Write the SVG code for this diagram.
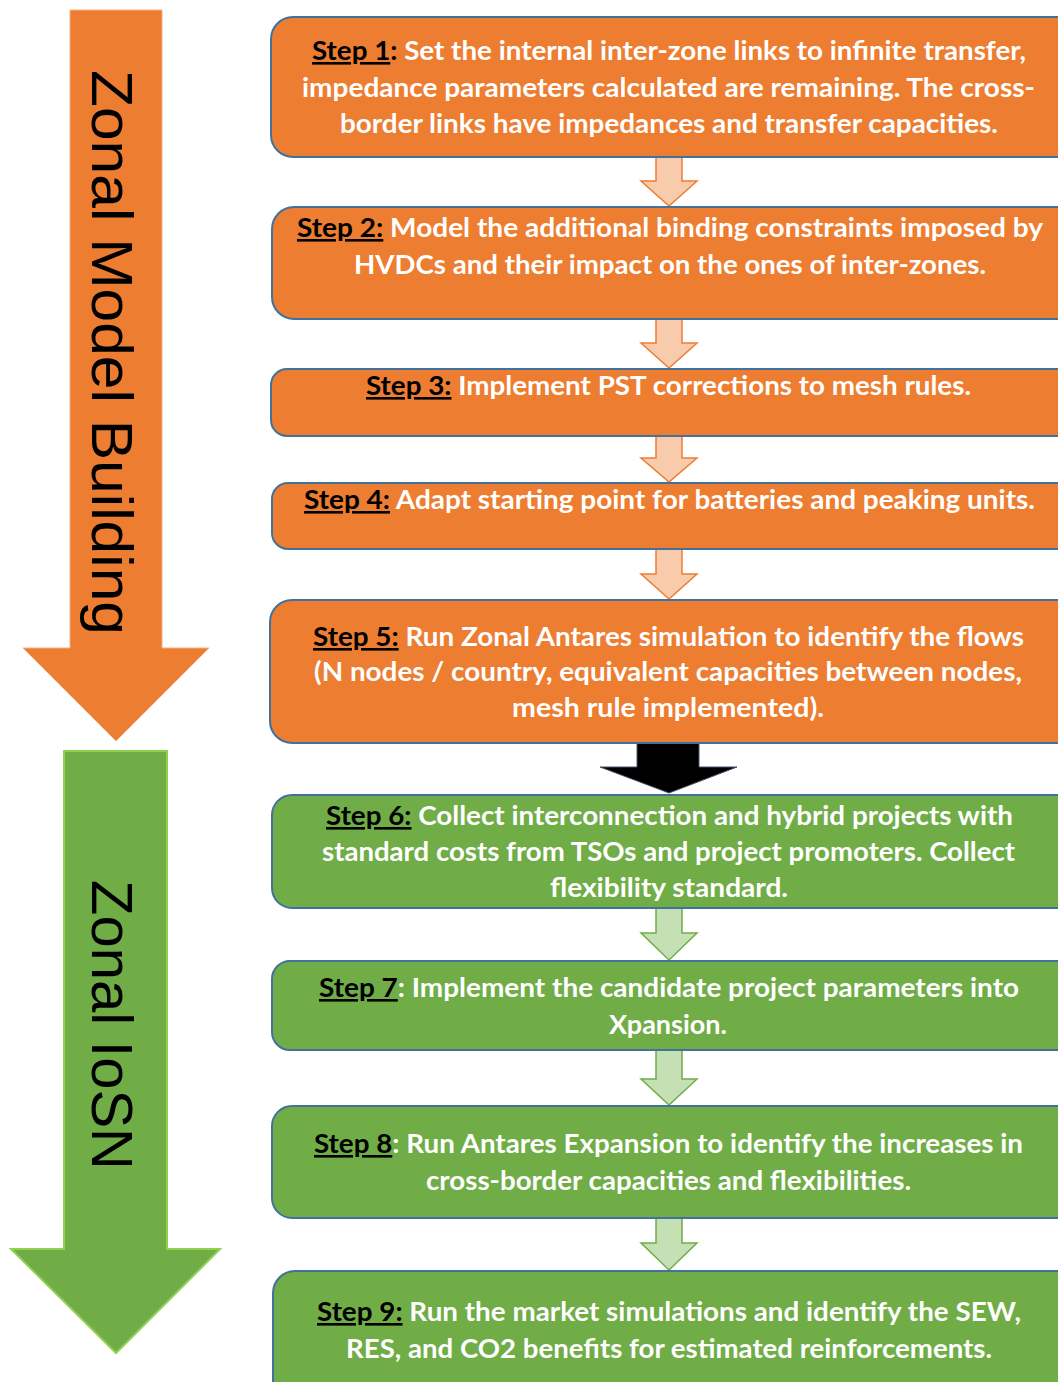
<svg xmlns="http://www.w3.org/2000/svg" width="1058" height="1382" viewBox="0 0 1058 1382">
  <style>
    .box { stroke: #41719C; stroke-width: 2; }
    .orange { fill: #ED7D31; }
    .green { fill: #70AD47; }
    .t { font-family: Lato, "Open Sans", "Liberation Sans", sans-serif; font-weight: bold; font-size: 26px; fill: #FFFFFF; }
    .lbl { fill: #000000; text-decoration: underline; }
    .blk { fill: #000000; }
    .arr-o { fill: #F8CBAD; stroke: #ED7D31; stroke-width: 1.5; }
    .arr-g { fill: #C5E0B4; stroke: #70AD47; stroke-width: 1.5; }
    .side { font-family: "Liberation Sans", Arial, sans-serif; font-size: 58px; fill: #000000; }
  </style>

  <rect width="1058" height="1382" fill="#FFFFFF"/>

  <!-- phase arrows on the left -->
  <g id="phase-model-building">
    <polygon points="70,10 162,10 162,648 209,648 116,741 23,648 70,648" fill="#ED7D31" stroke="#F4B183" stroke-width="1"/>
    <text class="side" transform="translate(92,70) rotate(90)" textLength="565" lengthAdjust="spacingAndGlyphs">Zonal Model Building</text>
  </g>
  <g id="phase-iosn">
    <polygon points="64,751 167,751 167,1249 220,1249 116,1353 11,1249 64,1249" fill="#70AD47" stroke="#92D050" stroke-width="2"/>
    <text class="side" transform="translate(92,880) rotate(90)" textLength="290" lengthAdjust="spacingAndGlyphs">Zonal IoSN</text>
  </g>

  <!-- connectors between steps -->
  <g id="connectors">
    <polygon class="arr-o" points="656,157 682,157 682,181 697,181 669,206 641,181 656,181"/>
    <polygon class="arr-o" points="656,319 682,319 682,343 697,343 669,368 641,343 656,343"/>
    <polygon class="arr-o" points="656,436 682,436 682,458 697,458 669,482 641,458 656,458"/>
    <polygon class="arr-o" points="656,549 682,549 682,574 697,574 669,599 641,574 656,574"/>
    <polygon points="637,743 699,743 699,767 737,767 669,793 600,767 637,767" fill="#000000" stroke="#44546A" stroke-width="1"/>
    <polygon class="arr-g" points="656,908 682,908 682,933 697,933 669,960 641,933 656,933"/>
    <polygon class="arr-g" points="656,1050 682,1050 682,1079 697,1079 669,1105 641,1079 656,1079"/>
    <polygon class="arr-g" points="656,1218 682,1218 682,1243 697,1243 669,1270 641,1243 656,1243"/>
  </g>

  <g id="step1">
    <rect class="box orange" x="271" y="17" width="820" height="140" rx="22"/>
    <text class="t" x="312" y="60" textLength="714" lengthAdjust="spacingAndGlyphs"><tspan class="lbl">Step 1</tspan><tspan class="blk">:</tspan> Set the internal inter-zone links to infinite transfer,</text>
    <text class="t" x="302" y="97" textLength="733" lengthAdjust="spacingAndGlyphs">impedance  parameters calculated are remaining. The cross-</text>
    <text class="t" x="340" y="133" textLength="658" lengthAdjust="spacingAndGlyphs">border links have impedances and transfer capacities.</text>
  </g>

  <g id="step2">
    <rect class="box orange" x="272" y="207" width="820" height="112" rx="22"/>
    <text class="t" x="297" y="237" textLength="746" lengthAdjust="spacingAndGlyphs"><tspan class="lbl">Step 2:</tspan> Model the additional  binding constraints imposed by</text>
    <text class="t" x="354" y="274" textLength="632" lengthAdjust="spacingAndGlyphs">HVDCs and their impact on the ones of inter-zones.</text>
  </g>

  <g id="step3">
    <rect class="box orange" x="271" y="369" width="820" height="67" rx="16"/>
    <text class="t" x="366" y="395" textLength="605" lengthAdjust="spacingAndGlyphs"><tspan class="lbl">Step 3:</tspan> Implement PST corrections to mesh rules.</text>
  </g>

  <g id="step4">
    <rect class="box orange" x="272" y="483" width="820" height="66" rx="16"/>
    <text class="t" x="304" y="509" textLength="731" lengthAdjust="spacingAndGlyphs"><tspan class="lbl">Step 4:</tspan> Adapt starting point for batteries and peaking units.</text>
  </g>

  <g id="step5">
    <rect class="box orange" x="270" y="600" width="820" height="143" rx="22"/>
    <text class="t" x="313" y="646" textLength="711" lengthAdjust="spacingAndGlyphs"><tspan class="lbl">Step 5:</tspan> Run Zonal Antares simulation to identify the flows</text>
    <text class="t" x="314" y="681" textLength="708" lengthAdjust="spacingAndGlyphs">(N nodes / country, equivalent capacities between nodes,</text>
    <text class="t" x="512" y="717" textLength="312" lengthAdjust="spacingAndGlyphs">mesh rule implemented).</text>
  </g>

  <g id="step6">
    <rect class="box green" x="272" y="795" width="820" height="113" rx="20"/>
    <text class="t" x="326" y="825" textLength="687" lengthAdjust="spacingAndGlyphs"><tspan class="lbl">Step 6:</tspan> Collect interconnection and hybrid projects with</text>
    <text class="t" x="322" y="861" textLength="693" lengthAdjust="spacingAndGlyphs">standard costs from TSOs and project promoters. Collect</text>
    <text class="t" x="550" y="897" textLength="238" lengthAdjust="spacingAndGlyphs">flexibility standard.</text>
  </g>

  <g id="step7">
    <rect class="box green" x="272" y="961" width="820" height="89" rx="18"/>
    <text class="t" x="319" y="997" textLength="700" lengthAdjust="spacingAndGlyphs"><tspan class="lbl">Step 7</tspan>: Implement the candidate project parameters into</text>
    <text class="t" x="609" y="1034" textLength="118" lengthAdjust="spacingAndGlyphs">Xpansion.</text>
  </g>

  <g id="step8">
    <rect class="box green" x="272" y="1106" width="820" height="112" rx="20"/>
    <text class="t" x="314" y="1153" textLength="709" lengthAdjust="spacingAndGlyphs"><tspan class="lbl">Step 8</tspan>: Run Antares Expansion  to identify the increases in</text>
    <text class="t" x="426" y="1190" textLength="485" lengthAdjust="spacingAndGlyphs">cross-border capacities and flexibilities.</text>
  </g>

  <g id="step9">
    <rect class="box green" x="273" y="1271" width="820" height="140" rx="22"/>
    <text class="t" x="317" y="1321" textLength="704" lengthAdjust="spacingAndGlyphs"><tspan class="lbl">Step 9:</tspan> Run the market simulations and identify the SEW,</text>
    <text class="t" x="346" y="1358" textLength="646" lengthAdjust="spacingAndGlyphs">RES, and CO2 benefits for estimated reinforcements.</text>
  </g>
</svg>
